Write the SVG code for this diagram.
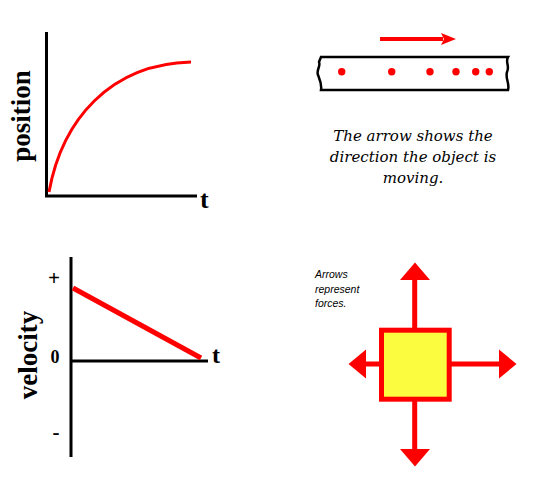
<svg xmlns="http://www.w3.org/2000/svg" width="537" height="479" viewBox="0 0 537 479">
<style>
.axis{stroke:#000;stroke-width:3;fill:none}
.lbl{font-family:"Liberation Serif","Times New Roman",serif;font-weight:bold;fill:#000}
.red{stroke:#ff0000;fill:none}
.cap{font-family:"DejaVu Serif",serif;font-style:italic;font-size:15px;fill:#000;text-anchor:middle}
.small{font-family:"Liberation Sans",Arial,sans-serif;font-style:italic;font-size:10.5px;fill:#000}
</style>
<rect width="537" height="479" fill="#fff"/>
<g id="position-graph">
<path class="axis" d="M46.5,32 V196 H197"/>
<text class="lbl" x="200" y="208" font-size="26">t</text>
<text class="lbl" font-size="27" text-anchor="middle" transform="translate(30,116) rotate(-90)">position</text>
<path class="red" stroke-width="3" d="M49,192 C62,120 110,64 191,62"/>
</g>
<g id="motion-strip">
<path d="M380,39 H443" stroke="#ff0000" stroke-width="4" fill="none"/>
<path d="M441,33 L456,39 L441,45 L444,39 Z" fill="#ff0000"/>
<path d="M321,57 H508 C505,62 510,66 507,72 C505,78 510,84 508,90 H321 C322,84 320,80 318,75 C316,70 321,66 319,62 Z" fill="none" stroke="#000" stroke-width="2.5"/>
<g fill="#ff0000">
<circle cx="341.7" cy="71.7" r="3.7"/>
<circle cx="391.7" cy="71.7" r="3.7"/>
<circle cx="430" cy="71.7" r="3.7"/>
<circle cx="456" cy="71.7" r="3.7"/>
<circle cx="475.7" cy="71.7" r="3.7"/>
<circle cx="489.3" cy="71.7" r="3.7"/>
</g>
<text class="cap" x="413" y="141">The arrow shows the</text>
<text class="cap" x="413" y="162">direction the object is</text>
<text class="cap" x="413" y="183">moving.</text>
</g>
<g id="velocity-graph">
<path class="axis" d="M71,257 V457 M71,361 H208"/>
<text class="lbl" x="212" y="363" font-size="24">t</text>
<text class="lbl" x="54" y="285" font-size="21" text-anchor="middle">+</text>
<text class="lbl" x="55" y="363" font-size="18" text-anchor="middle">0</text>
<text class="lbl" x="56" y="439" font-size="21" text-anchor="middle">-</text>
<text class="lbl" font-size="27" text-anchor="middle" transform="translate(37,355) rotate(-90)">velocity</text>
<path class="red" stroke-width="5" d="M73,288 L201,358"/>
</g>
<g id="forces">
<text class="small" x="315" y="278">Arrows</text>
<text class="small" x="315" y="293">represent</text>
<text class="small" x="315" y="307">forces.</text>
<g fill="#ff0000" stroke="none">
<rect x="412.2" y="279" width="5" height="50"/>
<path d="M400,280 L415,262.5 L430,280 Z"/>
<rect x="412.2" y="400" width="5" height="50"/>
<path d="M400,449 L415,466.5 L430,449 Z"/>
<rect x="365" y="361.5" width="16" height="5"/>
<path d="M366,349.5 L348.5,364 L366,378.5 Z"/>
<rect x="450" y="361.5" width="50" height="5"/>
<path d="M499,349.5 L516.5,364 L499,378.5 Z"/>
</g>
<rect x="381.5" y="330.2" width="67.7" height="69" fill="#fbfb40" stroke="#ff0000" stroke-width="5"/>
</g>
</svg>
